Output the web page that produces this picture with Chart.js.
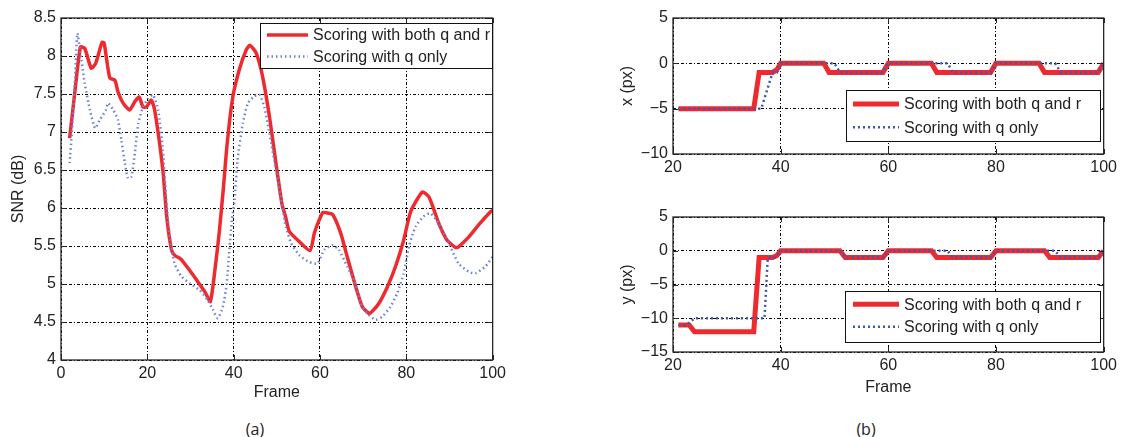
<!DOCTYPE html>
<html>
<head>
<meta charset="utf-8">
<script src="https://cdn.jsdelivr.net/npm/chart.js@4/dist/chart.umd.min.js"></script>
<style>
  body { margin: 0; background: #fff; width: 1121px; height: 437px; position: relative; overflow: hidden; }
  canvas { position: absolute; }
  .cap { position: absolute; font: 16px "Open Sans", sans-serif; color: #222; line-height: 20px; transform: translateX(-50%); }
</style>
</head>
<body>
<canvas id="snr" width="510" height="410" style="left:0;top:0"></canvas>
<canvas id="dx" width="521" height="175" style="left:600px;top:0"></canvas>
<canvas id="dy" width="521" height="220" style="left:600px;top:190px"></canvas>
<div class="cap" style="left:255px;top:419px">(a)</div>
<div class="cap" style="left:866px;top:419px">(b)</div>
<script>
// (a) SNR per frame
const bothFrames = [2, 3, 4.5, 5.5, 7, 8, 9.5, 10, 11.3, 12.5, 13.2, 14.4, 15.9, 17.1, 18.1, 19, 19.8, 20.9, 21.7, 23.6,
  24.5, 25.6, 26.3, 27.9, 29.8, 31.7, 33.3, 34.6, 35.8, 36.7, 37.6, 38.5, 39.8, 41.3, 42.9, 43.8, 45.2, 46.7, 48.3, 49.8,
  51.2, 52, 52.9, 54.8, 57.7, 58.7, 59.8, 60.7, 62.1, 63, 64.8, 66.3, 68.3, 69.8, 71.4, 72.1, 73.7, 75.6, 77.5, 79.4,
  81, 83.7, 85.2, 86.5, 87.5, 89.4, 91.4, 92.1, 94.5, 96.8, 99.5, 100];
const bothSnr = [6.92, 7.42, 8.12, 8.1, 7.84, 7.9, 8.18, 8.17, 7.71, 7.68, 7.53, 7.38, 7.29, 7.4, 7.46, 7.33, 7.33, 7.42, 7.29, 6.5,
  5.88, 5.45, 5.38, 5.32, 5.18, 5.03, 4.9, 4.77, 5.25, 5.7, 6.25, 6.85, 7.46, 7.82, 8.08, 8.14, 8.04, 7.73, 7.2, 6.59,
  6.05, 5.89, 5.69, 5.58, 5.44, 5.67, 5.84, 5.94, 5.93, 5.91, 5.67, 5.36, 4.96, 4.7, 4.61, 4.64, 4.75, 4.96, 5.23, 5.58,
  5.95, 6.21, 6.15, 5.96, 5.8, 5.58, 5.48, 5.49, 5.62, 5.78, 5.95, 5.97];
const qFrames = [2, 2.5, 3.2, 3.8, 4.4, 5.5, 6.7, 7.9, 9, 10.4, 10.9, 12.1, 13.2, 14, 14.8, 15.5, 16.3, 17.1, 17.9, 19,
  20.2, 21.3, 22.5, 23.6, 24.4, 25.2, 26.3, 27.9, 29.8, 32.1, 34, 35.2, 36.3, 37.5, 38.4, 39, 39.6, 40.2, 40.9, 42.1,
  43.3, 44.8, 46, 47.1, 48.3, 49.8, 51.3, 52.1, 53.3, 55.2, 57.5, 59.4, 61, 62.9, 64.4, 66.3, 67.9, 69.4, 71, 72.9,
  74.4, 76.3, 77.9, 79.4, 80.6, 82.1, 84, 85.6, 87.5, 89.8, 92.1, 94.5, 96, 98.3, 100];
const qSnr = [6.59, 6.98, 7.64, 8.3, 8.08, 7.64, 7.29, 7.05, 7.16, 7.29, 7.38, 7.29, 7.16, 6.89, 6.59, 6.39, 6.41, 6.72, 7.11, 7.33,
  7.44, 7.49, 7.29, 6.76, 6.1, 5.62, 5.27, 5.1, 5.01, 4.92, 4.79, 4.66, 4.55, 4.7, 5.01, 5.45, 5.84, 6.1, 6.63, 7.11,
  7.38, 7.47, 7.49, 7.33, 6.98, 6.5, 6.02, 5.75, 5.54, 5.38, 5.29, 5.27, 5.45, 5.51, 5.45, 5.23, 5.05, 4.75, 4.61, 4.53,
  4.57, 4.7, 4.88, 5.14, 5.49, 5.75, 5.89, 5.93, 5.8, 5.54, 5.27, 5.16, 5.14, 5.23, 5.36];

// (b) displacement in x and y
const dxBothFrames = [21, 35, 36, 38.5, 39.3, 40, 48, 49, 59, 60, 68, 69, 79, 80, 88, 89, 99, 100];
const dxBoth = [-5, -5, -1, -1, -0.7, 0, 0, -1, -1, 0, 0, -1, -1, 0, 0, -1, -1, 0];
const dxQFrames = [21, 36.4, 38.5, 39.3, 40, 50, 51, 59, 60, 71, 72, 79, 80, 91, 92, 99, 100];
const dxQ = [-5, -5, -1, -1, 0, 0, -1, -1, 0, 0, -1, -1, 0, 0, -1, -1, 0];
const dyBothFrames = [21, 23, 24, 35, 36, 38.5, 39.3, 40, 51, 52, 59, 60, 68, 69, 79, 80, 89, 90, 99, 100];
const dyBoth = [-11, -11, -12, -12, -1, -1, -0.7, 0, 0, -1, -1, 0, 0, -1, -1, 0, 0, -1, -1, 0];
const dyQFrames = [21, 22.5, 24, 37, 37.6, 39, 40, 51, 52, 59, 60, 71, 72, 79, 80, 91, 92, 99, 100];
const dyQ = [-11, -11, -10, -10, -1, -1, 0, 0, -1, -1, 0, 0, -1, -1, 0, 0, -1, -1, 0];

const seriesNames = ["Scoring with both q and r", "Scoring with q only"];
const FONT = "'Liberation Sans', Arial, sans-serif";
const RED = "#ef2a2e";

function pairs(xs, ys) {
  return xs.map((x, i) => ({ x: x, y: ys[i] }));
}

function minus(v) {
  return String(v).replace("-", "\u2212");
}

function line(ctx, x1, y1, x2, y2) {
  ctx.beginPath();
  ctx.moveTo(x1, y1);
  ctx.lineTo(x2, y2);
  ctx.stroke();
}

// matlab style box, inward ticks and boxed legend
const matlabBox = {
  id: "matlabBox",
  afterDatasetsDraw(chart, args, opts) {
    const { ctx, chartArea: a, scales } = chart;
    ctx.save();
    ctx.strokeStyle = "#262626";
    ctx.lineWidth = 1;
    ctx.setLineDash([]);
    scales.x.ticks.forEach(t => {
      const px = Math.round(scales.x.getPixelForValue(t.value)) + 0.5;
      line(ctx, px, a.bottom, px, a.bottom - 5);
      line(ctx, px, a.top, px, a.top + 5);
    });
    scales.y.ticks.forEach(t => {
      const py = Math.round(scales.y.getPixelForValue(t.value)) + 0.5;
      line(ctx, a.left, py, a.left + 5, py);
      line(ctx, a.right, py, a.right - 5, py);
    });
    ctx.lineWidth = 1.3;
    ctx.strokeRect(a.left, a.top, a.right - a.left, a.bottom - a.top);

    // legend
    const L = opts.legend;
    ctx.fillStyle = "#fff";
    ctx.fillRect(L.x, L.y, L.w, L.h);
    ctx.lineWidth = 1;
    ctx.strokeStyle = "#111";
    ctx.strokeRect(L.x + 0.5, L.y + 0.5, L.w, L.h);
    ctx.font = "16px " + FONT;
    ctx.textBaseline = "middle";
    chart.data.datasets.forEach((ds, i) => {
      const ry = L.rows[i];
      ctx.strokeStyle = ds.borderColor;
      ctx.lineWidth = ds.borderWidth;
      ctx.setLineDash(ds.borderDash || []);
      line(ctx, L.x1, ry, L.x2, ry);
      ctx.setLineDash([]);
      ctx.fillStyle = "#222";
      ctx.fillText(ds.label, L.tx, ry + 1);
    });
    ctx.restore();
  }
};

function makeChart(id, cfg) {
  const yWidth = cfg.yWidth, xHeight = cfg.xHeight;
  return new Chart(document.getElementById(id), {
    type: "line",
    data: {
      datasets: [
        {
          label: seriesNames[0],
          data: cfg.both,
          borderColor: RED,
          borderWidth: cfg.redWidth,
          pointRadius: 0,
          tension: cfg.tension,
          order: 1
        },
        {
          label: seriesNames[1],
          data: cfg.q,
          borderColor: cfg.blue,
          borderWidth: cfg.blueWidth,
          borderDash: cfg.blueDash,
          pointRadius: 0,
          tension: cfg.tension,
          order: 0
        }
      ]
    },
    options: {
      responsive: false,
      animation: false,
      layout: { padding: cfg.padding },
      plugins: {
        legend: { display: false },
        tooltip: { enabled: false },
        matlabBox: { legend: cfg.legend }
      },
      scales: {
        x: {
          type: "linear",
          min: cfg.xMin,
          max: 100,
          ticks: { stepSize: 20, padding: 4, color: "#222", font: { size: 16, family: FONT }, maxRotation: 0 },
          grid: { color: "#000", lineWidth: 1, drawTicks: false },
          border: { display: false, dash: [3, 2, 1, 2] },
          title: cfg.xTitle
            ? { display: true, text: "Frame", color: "#222", font: { size: 16, family: FONT }, padding: { top: 0, bottom: cfg.xTitlePad } }
            : { display: false },
          afterFit: s => { s.height = xHeight; }
        },
        y: {
          min: cfg.yMin,
          max: cfg.yMax,
          ticks: { stepSize: cfg.yStep, padding: 5, color: "#222", font: { size: 16, family: FONT }, callback: v => minus(v) },
          grid: { color: "#000", lineWidth: 1, drawTicks: false },
          border: { display: false, dash: [3, 2, 1, 2] },
          title: { display: true, text: cfg.yTitle, color: "#222", font: { size: 16, family: FONT }, padding: { top: cfg.yTitlePad, bottom: 0 } },
          afterFit: s => { s.width = yWidth; }
        }
      }
    },
    plugins: [matlabBox]
  });
}

makeChart("snr", {
  both: pairs(bothFrames, bothSnr),
  q: pairs(qFrames, qSnr),
  blue: "#6f82d2",
  redWidth: 3.5,
  blueWidth: 2.5,
  blueDash: [1.5, 3],
  tension: 0.2,
  xMin: 0, yMin: 4, yMax: 8.5, yStep: 0.5,
  yTitle: "SNR (dB)", yTitlePad: 9,
  xTitle: true, xTitlePad: 8,
  yWidth: 61, xHeight: 50,
  padding: { top: 18, right: 17, left: 0, bottom: 0 },
  legend: { x: 260, y: 23, w: 232, h: 45, x1: 267, x2: 308, tx: 313, rows: [35, 56.5] }
});

makeChart("dx", {
  both: pairs(dxBothFrames, dxBoth),
  q: pairs(dxQFrames, dxQ),
  blue: "#3d58b5",
  redWidth: 5,
  blueWidth: 2.5,
  blueDash: [2, 3],
  tension: 0,
  xMin: 20, yMin: -10, yMax: 5, yStep: 5,
  yTitle: "x (px)", yTitlePad: 18,
  xTitle: false,
  yWidth: 73, xHeight: 21,
  padding: { top: 18, right: 15, left: 0, bottom: 0 },
  legend: { x: 246, y: 90, w: 254, h: 51, x1: 253, x2: 299, tx: 304, rows: [104, 127.3] }
});

makeChart("dy", {
  both: pairs(dyBothFrames, dyBoth),
  q: pairs(dyQFrames, dyQ),
  blue: "#3d58b5",
  redWidth: 5,
  blueWidth: 2.5,
  blueDash: [2, 3],
  tension: 0,
  xMin: 20, yMin: -15, yMax: 5, yStep: 5,
  yTitle: "y (px)", yTitlePad: 18,
  xTitle: true, xTitlePad: 13,
  yWidth: 73, xHeight: 58,
  padding: { top: 27, right: 15, left: 0, bottom: 0 },
  legend: { x: 245, y: 101, w: 255, h: 51, x1: 253, x2: 299, tx: 304, rows: [114.3, 136.7] }
});
</script>
</body>
</html>
